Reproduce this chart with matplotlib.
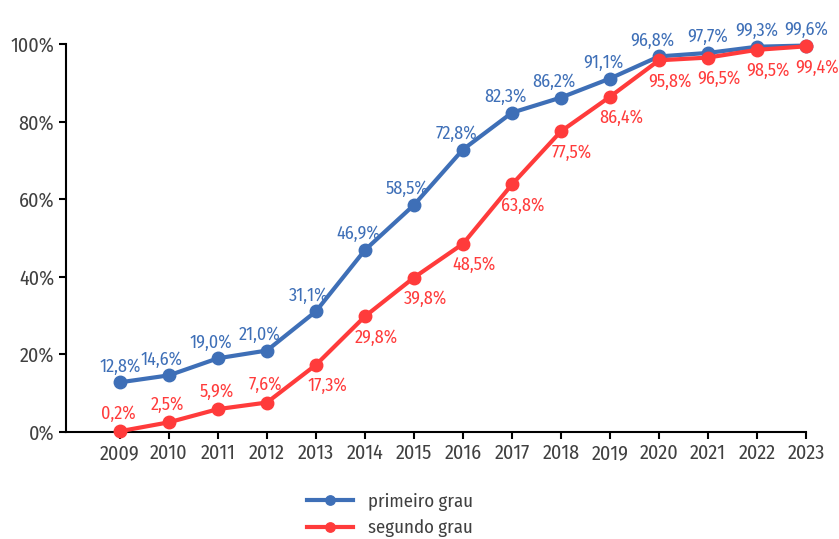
import matplotlib.pyplot as plt
from matplotlib.ticker import FuncFormatter

plt.rcParams['font.family'] = ['Fira Sans Condensed', 'DejaVu Sans']

years = list(range(2009, 2024))
primeiro = [12.8, 14.6, 19.0, 21.0, 31.1, 46.9, 58.5, 72.8, 82.3, 86.2, 91.1, 96.8, 97.7, 99.3, 99.6]
segundo = [0.2, 2.5, 5.9, 7.6, 17.3, 29.8, 39.8, 48.5, 63.8, 77.5, 86.4, 95.8, 96.5, 98.5, 99.4]

blue = '#3e6fb7'
red = '#ff3b3b'
text_gray = '#404040'

fig = plt.figure(figsize=(8.39, 5.39), dpi=100)
ax = fig.add_axes([66 / 839, 1 - 432 / 539, (806 - 66) / 839, (432 - 44) / 539])

ax.plot(years, primeiro, color=blue, marker='o', markersize=9, linewidth=3, label='primeiro grau', zorder=3)
ax.plot(years, segundo, color=red, marker='o', markersize=9, linewidth=3, label='segundo grau', zorder=3)

def fmt(v):
    return f"{v:.1f}%".replace('.', ',')

# blue labels above (nudged left on the rising part), red above early then below-right
for x, v in zip(years, primeiro):
    dx = -5 if 2010 <= x <= 2020 else 0
    ax.annotate(fmt(v), (x, v), textcoords='offset points', xytext=(dx, 5),
                ha='center', va='bottom', color=blue, fontsize=13)

for x, v in zip(years, segundo):
    if x <= 2012:
        ax.annotate(fmt(v), (x, v), textcoords='offset points', xytext=(-1, 6),
                    ha='center', va='bottom', color=red, fontsize=13)
    else:
        ax.annotate(fmt(v), (x, v), textcoords='offset points', xytext=(8, -9),
                    ha='center', va='top', color=red, fontsize=13)

ax.set_xlim(2007.9, 2023.0)
ax.set_ylim(0, 100)
ax.set_xticks(years)
ax.set_yticks(range(0, 101, 20))
ax.yaxis.set_major_formatter(FuncFormatter(lambda v, p: f"{int(v)}%"))
ax.tick_params(axis='both', labelsize=14.5, labelcolor=text_gray, color='black', length=5, width=1.5)

for s in ['top', 'right']:
    ax.spines[s].set_visible(False)
for s in ['left', 'bottom']:
    ax.spines[s].set_linewidth(1.5)
    ax.spines[s].set_color('black')

for line in ax.lines:
    line.set_clip_on(False)

fig.legend(loc='lower center', bbox_to_anchor=(390 / 839, -0.028), frameon=False,
           fontsize=13.5, labelcolor=text_gray, handlelength=2.5, labelspacing=0.45,
           markerscale=0.75)

fig.savefig('out.png', dpi=100)
